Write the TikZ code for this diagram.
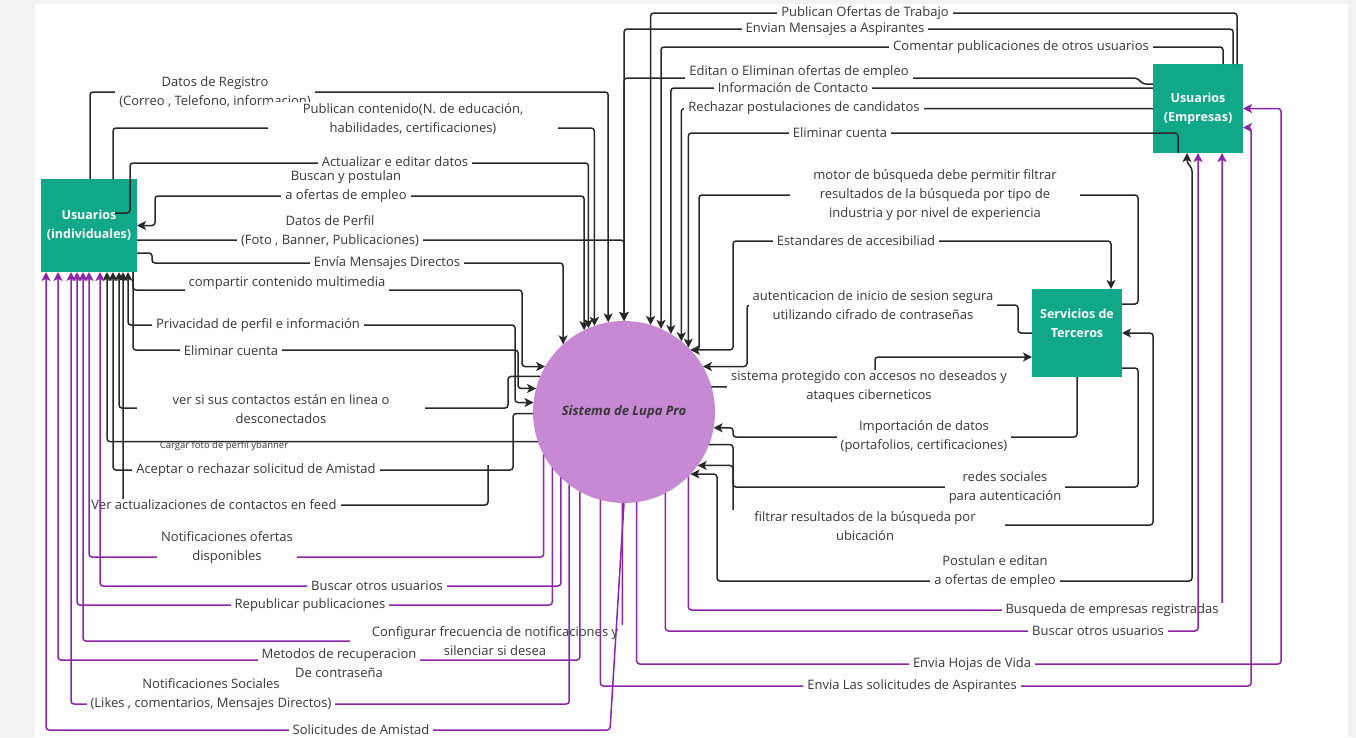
\documentclass[tikz,border=0pt]{standalone}
\usepackage{fontspec}
\setmainfont{Open Sans}
\usetikzlibrary{arrows.meta}

\definecolor{tealbox}{RGB}{16,168,137}
\definecolor{lilac}{RGB}{199,136,212}
\definecolor{plin}{RGB}{142,36,170}
\definecolor{blin}{RGB}{40,40,40}
\definecolor{txt}{RGB}{55,55,55}
\definecolor{canvasgray}{RGB}{242,242,242}

\tikzset{
  ent/.style={rectangle,fill=tealbox,text=white,inner sep=0pt,outer sep=0pt,align=center,
    font=\fontsize{12.5}{19}\selectfont\bfseries},
  proc/.style={circle,fill=lilac,minimum size=182pt,inner sep=0pt,outer sep=0pt,
    text=black!78,font=\fontsize{13}{15}\selectfont\bfseries\itshape},
  conn/.style={draw=blin,line width=1.5pt,rounded corners=3pt},
  pconn/.style={draw=plin,line width=1.5pt,rounded corners=3pt},
  arr/.style={-{Stealth[length=9pt,width=9pt,inset=2.2pt]}},
  biarr/.style={{Stealth[length=9pt,width=9pt,inset=2.2pt]}-{Stealth[length=9pt,width=9pt,inset=2.2pt]}},
  lbl/.style={fill=white,inner xsep=4pt,inner ysep=1pt,align=center,text=txt,
    font=\fontsize{13}{19}\selectfont},
}

\begin{document}
\begin{tikzpicture}[x=1pt,y=-1pt]
\useasboundingbox (0,0) rectangle (1356,737);
\fill[canvasgray] (0,0) rectangle (1356,737);
\fill[white] (35,4) rectangle (1348,737);

% entidades y proceso
\node[ent,minimum width=96pt,minimum height=93pt] (usrind) at (89,225.5) {Usuarios\\(individuales)};
\node[ent,minimum width=90pt,minimum height=89pt] (usremp) at (1198,108.5) {Usuarios\\(Empresas)};
\node[ent,minimum width=90pt,minimum height=88pt] (terceros) at (1077,333) {Servicios de\\Terceros\\\mbox{}};
\node[proc] (lupa) at (624,412) {Sistema de Lupa Pro};

% usuarios individuales <-> sistema
\draw[conn,arr] ([xshift=1pt]usrind.north) -- ++(0,-87) -| (lupa.100);
\node[lbl] (registro) at (215,92) {Datos de Registro\\(Correo , Telefono, informacion)};
\draw[conn,arr] ([xshift=24pt]usrind.north) -- ++(0,-51) -| (lupa.109);
\node[lbl,minimum width=290pt] (publica) at (413,119) {Publican contenido(N. de educación,\\habilidades, certificaciones)};
\draw[conn,arr] ([xshift=-22pt,yshift=12.5pt]usrind.east) -- ++(15,0) -- ++(0,-50) -| (lupa.113);
\node[lbl] (actualiza) at (395,162) {Actualizar e editar datos};
\draw[conn,biarr] (lupa.116) |- (155,196) |- (usrind.east);
\node[lbl] (postula) at (346,186.5) {Buscan y postulan\\a ofertas de empleo};
\draw[conn,arr] ([yshift=-14.5pt]usrind.east) -| (lupa.90);
\node[lbl] (perfil) at (330,231.5) {Datos de Perfil\\(Foto , Banner, Publicaciones)};
\draw[conn,arr] ([yshift=-27.5pt]usrind.east) -- ++(15,0) -- ++(0,10) -| (lupa.132);
\node[lbl] (mensajes) at (387,263) {Envía Mensajes Directos};
\draw[conn,arr] ([xshift=44pt]usrind.south) -- ++(0,18) -- (522,290) |- (lupa.150);
\node[lbl,minimum height=18pt] (multimedia) at (287,283.5) {compartir contenido multimedia};
\draw[conn,biarr] (lupa.174) -| (515,325) -| ([xshift=39pt]usrind.south);
\node[lbl] (privacidad) at (258,325) {Privacidad de perfil e información};
\draw[conn,arr] ([xshift=44pt]usrind.south) |- (518,350) |- (lupa.165);
\node[lbl] (elimind) at (231,351) {Eliminar cuenta};
\draw[conn,arr] (lupa.157) -| (508,408) -| ([xshift=30pt]usrind.south);
\node[lbl,minimum width=288pt] (enlinea) at (281,409.5) {ver si sus contactos están en linea o\\desconectados};
\draw[conn,arr] (lupa.199) -| ([xshift=18pt]usrind.south);
\node[text=txt,font=\fontsize{9.5}{11}\selectfont,inner sep=0pt] (cargar) at (224,446) {Cargar foto de perfil ybanner};
\draw[conn,arr] (lupa.181) -| (513,470) -| ([xshift=24pt]usrind.south);
\node[lbl] (amistad) at (256,470) {Aceptar o rechazar solicitud de Amistad};
\coordinate (feedend) at (488,465);
\draw[conn,arr] (feedend) -- (488,505) -| ([xshift=34pt]usrind.south);
\node[lbl] (feed) at (214,505) {Ver actualizaciones de contactos en feed};

% empresas -> sistema
\draw[conn,arr] ([xshift=39pt]usremp.north) -- ++(0,-51) -| (lupa.73);
\node[lbl] (ofertas) at (865,13) {Publican Ofertas de Trabajo};
\draw[conn,arr] ([xshift=35pt]usremp.north) -- ++(0,-35) -| (lupa.90);
\node[lbl] (aspir) at (835,29) {Envian Mensajes a Aspirantes};
\draw[conn,arr] ([xshift=25pt]usremp.north) -- ++(0,-17) -| (lupa.66);
\node[lbl] (comentar) at (1021,47) {Comentar publicaciones de otros usuarios};
\draw[conn,arr] ([yshift=24.5pt]usremp.west) -- ++(-10,0) -- ++(-6,-6) -| (lupa.90);
\node[lbl,minimum height=17pt] (editan) at (799,72.5) {Editan o Eliminan ofertas de empleo};
\draw[conn,arr] ([yshift=20.5pt]usremp.west) -| (lupa.59);
\node[lbl] (contacto) at (793,88) {Información de Contacto};
\draw[conn,arr] (usremp.west) -| (lupa.51);
\node[lbl] (rechazar) at (804,108) {Rechazar postulaciones de candidatos};
\draw[conn,arr] ([xshift=-20pt]usremp.south) -- ++(0,-20) -| (lupa.45);
\node[lbl] (elimemp) at (840,133) {Eliminar cuenta};
\draw[conn,biarr] ([xshift=-11pt]usremp.south) -- ++(0,10) -- ++(5,5) |- (717,581) |- (lupa.317);
\node[lbl] (editan2) at (995,572) {Postulan e editan\\a ofertas de empleo};

% servicios de terceros
\draw[conn,arr] ([yshift=29pt]terceros.east) -- ++(16,0) -- ++(0,-109) -| (699,350) -- (lupa.43);
\node[lbl,minimum width=290pt] (motor) at (935,195) {motor de búsqueda debe permitir filtrar\\resultados de la búsqueda por tipo de\\industria y por nivel de experiencia};
\draw[conn,biarr] (lupa.43) -| (733,241) -| ([xshift=34pt]terceros.north);
\node[lbl] (accesib) at (856,241) {Estandares de accesibiliad};
\draw[conn,arr] (terceros.west) -- ++(-14,0) |- (747,305) |- (lupa.30);
\node[lbl] (autent) at (873,305) {autenticacion de inicio de sesion segura\\utilizando cifrado de contraseñas};
\draw[conn,arr] (lupa.16) -| (875,357) -- ([yshift=-24pt]terceros.west);
\node[lbl] (protegido) at (869,387) {sistema protegido con accesos no deseados y\\ataques ciberneticos};
\draw[conn,arr] (terceros.south) |- (733,437) |- (lupa.350);
\node[lbl] (importa) at (924,437) {Importación de datos\\(portafolios, certificaciones)};
\draw[conn,arr] ([yshift=-35pt]terceros.east) -- ++(16,0) |- (733,487) |- (lupa.324);
\node[lbl] (redes) at (1005,488) {redes sociales\\para autenticación};
\draw[conn,arr] (lupa.339) -| (733,525) -- (1153,525) |- (terceros.east);
\node[lbl,minimum width=280pt] (ubicacion) at (865,526) {filtrar resultados de la búsqueda por\\ubicación};

% sistema -> usuarios individuales (morado)
\draw[pconn,arr] (lupa.269) -- (lupa.269 |- 0,641) -| ([xshift=-6pt]usrind.south);
\node[lbl,minimum width=290pt] (frecuencia) at (495,641) {Configurar frecuencia de notificaciones y\\silenciar si desea};
\draw[pconn,arr] (lupa.208) -- (lupa.208 |- 0,557) -| (usrind.south);
\node[lbl] (notofertas) at (227,548) {Notificaciones ofertas\\disponibles};
\draw[pconn,arr] (lupa.226) -- (lupa.226 |- 0,586) -| ([xshift=11pt]usrind.south);
\node[lbl] (buscarind) at (377,586) {Buscar otros usuarios};
\draw[pconn,arr] (lupa.218) -- (lupa.218 |- 0,605) -| ([xshift=-12pt]usrind.south);
\node[lbl] (republicar) at (310,605) {Republicar publicaciones};
\draw[pconn,arr] (lupa.241) -- (lupa.241 |- 0,660) -| ([xshift=-31pt]usrind.south);
\node[lbl] (recupera) at (339,663) {Metodos de recuperacion\\De contraseña};
\draw[pconn,arr] (lupa.233) -- (lupa.233 |- 0,704) -| ([xshift=-18pt]usrind.south);
\node[lbl] (notsocial) at (211,695) {Notificaciones Sociales\\(Likes , comentarios, Mensajes Directos)};
\draw[pconn,arr] (lupa.270) -- (610,730) -| ([xshift=-43pt]usrind.south);
\node[lbl] (solicitud) at (361,730) {Solicitudes de Amistad};

% sistema -> empresas (morado)
\draw[pconn,arr] (lupa.315) -- (lupa.315 |- 0,610) -| ([xshift=24pt]usremp.south);
\node[lbl] (busqemp) at (1112,610) {Busqueda de empresas registradas};
\draw[pconn,arr] (lupa.297) -- (lupa.297 |- 0,631) -| (usremp.south);
\node[lbl] (buscaremp) at (1098,631) {Buscar otros usuarios};
\draw[pconn,arr] (lupa.278) -- (lupa.278 |- 0,664) -| ([xshift=38pt]usremp.east) -- (usremp.east);
\node[lbl] (hojas) at (972,664) {Envia Hojas de Vida};
\draw[pconn,arr] (lupa.255) -- (lupa.255 |- 0,686) -| ([xshift=8pt,yshift=-19pt]usremp.east) -- ([yshift=-19pt]usremp.east);
\node[lbl] (envsolic) at (912,686) {Envia Las solicitudes de Aspirantes};
\end{tikzpicture}
\end{document}
